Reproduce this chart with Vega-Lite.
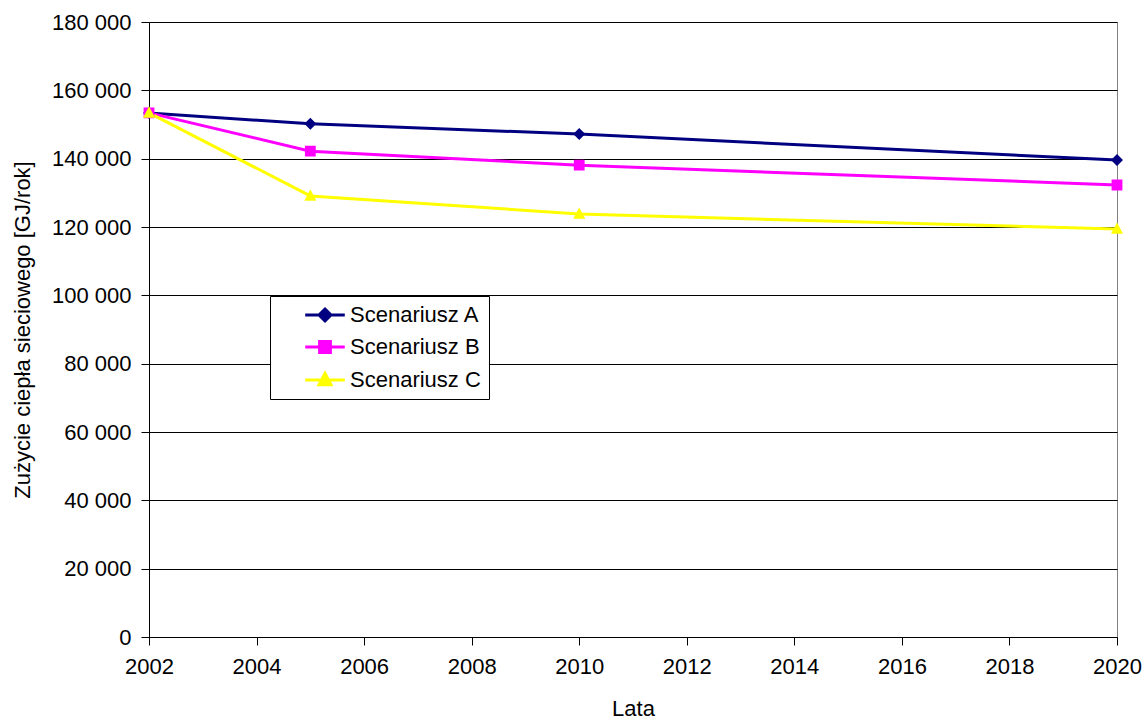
{
  "$schema": "https://vega.github.io/schema/vega-lite/v6.json",
  "autosize": "none",
  "width": 968,
  "height": 615,
  "padding": {"left": 149, "top": 22, "right": 29, "bottom": 84},
  "background": "white",
  "config": {
    "locale": {"number": {"decimal": ",", "thousands": " ", "grouping": [3], "currency": ["", " zł"]}},
    "font": "Liberation Sans",
    "view": {"stroke": "#808080", "strokeWidth": 1},
    "axis": {
      "labelFont": "Liberation Sans", "titleFont": "Liberation Sans",
      "labelFontSize": 22, "titleFontSize": 22, "titleFontWeight": "normal",
      "labelColor": "black", "titleColor": "black",
      "domainColor": "black", "tickColor": "black", "tickSize": 8,
      "gridColor": "black", "gridOpacity": 1, "gridWidth": 1, "labelOverlap": false
    },
    "legend": {
      "labelFont": "Liberation Sans", "labelFontSize": 22, "labelColor": "black"
    }
  },
  "data": {"values": [
    {"rok": 2002, "wartosc": 153400, "seria": "Scenariusz A"},
    {"rok": 2005, "wartosc": 150200, "seria": "Scenariusz A"},
    {"rok": 2010, "wartosc": 147200, "seria": "Scenariusz A"},
    {"rok": 2020, "wartosc": 139600, "seria": "Scenariusz A"},
    {"rok": 2002, "wartosc": 153400, "seria": "Scenariusz B"},
    {"rok": 2005, "wartosc": 142200, "seria": "Scenariusz B"},
    {"rok": 2010, "wartosc": 138100, "seria": "Scenariusz B"},
    {"rok": 2020, "wartosc": 132300, "seria": "Scenariusz B"},
    {"rok": 2002, "wartosc": 153400, "seria": "Scenariusz C"},
    {"rok": 2005, "wartosc": 129100, "seria": "Scenariusz C"},
    {"rok": 2010, "wartosc": 123800, "seria": "Scenariusz C"},
    {"rok": 2020, "wartosc": 119400, "seria": "Scenariusz C"}
  ]},
  "encoding": {
    "x": {"field": "rok", "type": "quantitative",
      "scale": {"domain": [2002, 2020], "nice": false, "zero": false},
      "axis": {"title": "Lata", "values": [2002, 2004, 2006, 2008, 2010, 2012, 2014, 2016, 2018, 2020],
        "format": "d", "grid": false, "labelPadding": 11, "titlePadding": 21, "labelFlush": false}},
    "y": {"field": "wartosc", "type": "quantitative",
      "scale": {"domain": [0, 180000], "nice": false},
      "axis": {"title": "Zużycie ciepła sieciowego [GJ/rok]",
        "values": [0, 20000, 40000, 60000, 80000, 100000, 120000, 140000, 160000, 180000],
        "format": ",d", "grid": true, "labelPadding": 10, "titlePadding": 17}},
    "color": {"field": "seria", "type": "nominal",
      "scale": {"domain": ["Scenariusz A", "Scenariusz B", "Scenariusz C"], "range": ["#000080", "#FF00FF", "#FFFF00"]},
      "legend": {
        "title": null, "orient": "none", "legendX": 121, "legendY": 274,
        "strokeColor": "black", "fillColor": "white", "padding": 8,
        "symbolSize": 144, "symbolOffset": 36, "labelOffset": 14,
        "rowPadding": 8, "symbolStrokeWidth": 3,
        "encode": {
          "symbols": {"update": {"stroke": {"scale": "color", "field": "value"}, "strokeWidth": {"value": 3}, "fill": {"scale": "color", "field": "value"}, "opacity": {"value": 1}}}
        }
      }}
  },
  "layer": [
    {"mark": {"type": "line", "strokeWidth": 3}},
    {"mark": {"type": "point", "filled": true, "opacity": 1, "size": 144, "strokeWidth": 0},
      "encoding": {
        "shape": {"field": "seria", "type": "nominal",
          "scale": {"domain": ["Scenariusz A", "Scenariusz B", "Scenariusz C"],
            "range": ["M-3.3,0H3.3M0,-1L1,0L0,1L-1,0Z", "M-3.3,0H3.3M-0.9,-0.9H0.9V0.9H-0.9Z", "M-3.3,0H3.3M0,-1.1L1,0.8H-1Z"]},
          "legend": {
            "title": null, "orient": "none", "legendX": 121, "legendY": 274,
            "strokeColor": "black", "fillColor": "white", "padding": 8,
            "symbolSize": 144, "symbolOffset": 36, "labelOffset": 14,
            "rowPadding": 8, "symbolStrokeWidth": 3,
            "encode": {
              "symbols": {"update": {"stroke": {"scale": "color", "field": "value"}, "strokeWidth": {"value": 3}, "fill": {"scale": "color", "field": "value"}, "opacity": {"value": 1}}}
            }
          }}
      }}
  ]
}
